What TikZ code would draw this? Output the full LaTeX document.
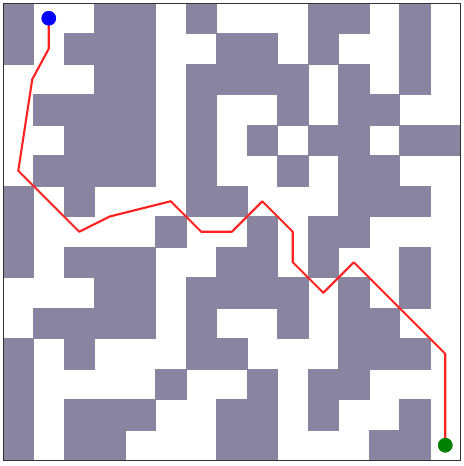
\documentclass[tikz,border=0pt]{standalone}
\usetikzlibrary{calc}
\definecolor{wallc}{HTML}{8985A1}
\definecolor{pathc}{HTML}{FF2020}
\definecolor{startc}{HTML}{0000FF}
\definecolor{goalc}{HTML}{007F00}
\definecolor{framec}{HTML}{333333}
\tikzset{
  wall/.style={fill=wallc, draw=wallc, line width=0.4pt},
  route/.style={draw=pathc, line width=2.1pt, line join=round, line cap=round},
  dot/.style={circle, inner sep=0pt, minimum size=14.5pt},
  frame/.style={draw=framec, line width=1pt}
}
\begin{document}
\begin{tikzpicture}[x=30.5pt,y=-30.5pt]
\useasboundingbox (-0.0984,-0.0984) rectangle (15.082,15.180);
\fill[white] (-0.0984,-0.0984) rectangle (15.082,15.180);
\foreach \r/\cs in {
  0/{0,3,4,6,10,11,13},
  1/{0,2,3,4,7,8,10,13},
  2/{3,4,6,7,8,9,11,13},
  3/{1,2,3,4,6,9,11,12},
  4/{2,3,4,6,8,10,11,13,14},
  5/{1,2,3,4,6,9,11,12},
  6/{0,2,6,7,11,12,13},
  7/{0,5,8,10,11},
  8/{0,2,3,4,7,8,10,13},
  9/{3,4,6,7,8,9,11,13},
  10/{1,2,3,4,6,9,11,12},
  11/{0,2,6,7,11,12,13},
  12/{0,5,8,10,11},
  13/{0,2,3,4,7,8,10,13},
  14/{0,2,3,7,8,12,13}}{
  \foreach \c in \cs {
    \path[wall] (\c,\r) rectangle ++(1,1);
  }
}
\draw[frame] (0,0) rectangle (15,15);
\node[dot, fill=startc] (start) at (1.5,0.5) {};
\node[dot, fill=goalc] (goal) at (14.5,14.5) {};
\coordinate (p1) at (1.5,1.5);
\coordinate (p2) at (0.96,2.5);
\coordinate (p3) at (0.5,5.5);
\coordinate (p4) at (2.5,7.5);
\coordinate (p5) at (3.5,7);
\coordinate (p6) at (5.5,6.5);
\coordinate (p7) at (6.5,7.5);
\coordinate (p8) at (7.5,7.5);
\coordinate (p9) at (8.5,6.5);
\coordinate (p10) at (9.5,7.5);
\coordinate (p11) at (9.5,8.5);
\coordinate (p12) at (10.5,9.5);
\coordinate (p13) at (11.5,8.5);
\coordinate (p14) at (14.5,11.5);
\draw[route] (start.center) -- (p1) -- (p2) -- (p3) -- (p4) -- (p5) -- (p6) -- (p7) -- (p8) -- (p9) -- (p10) -- (p11) -- (p12) -- (p13) -- (p14) -- (goal.center);
\node[dot, fill=startc] at (start) {};
\node[dot, fill=goalc] at (goal) {};
\end{tikzpicture}
\end{document}
